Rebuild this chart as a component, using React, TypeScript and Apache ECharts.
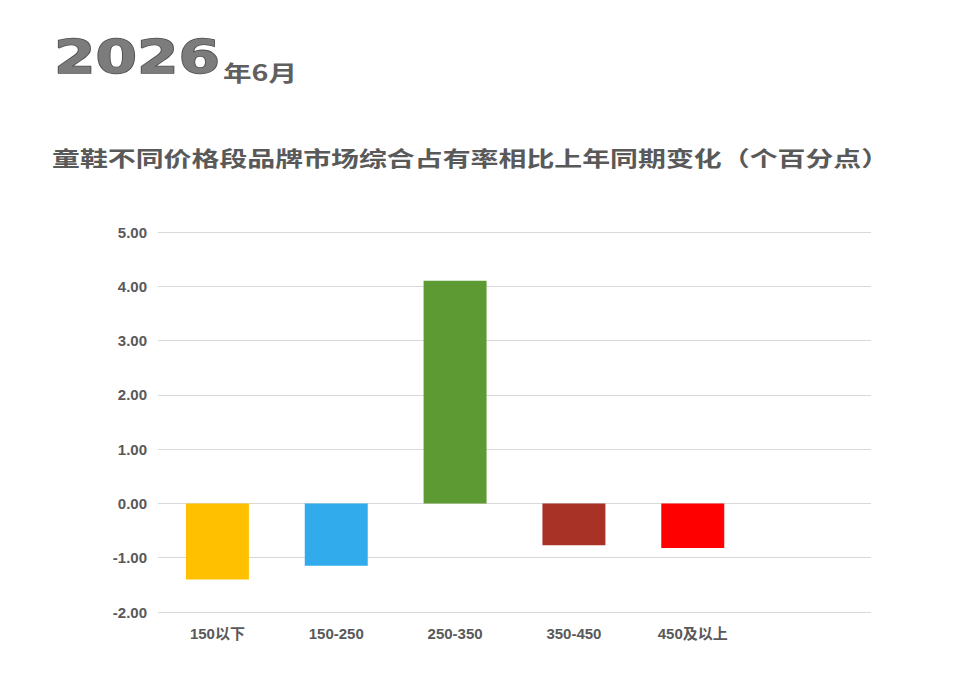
import React, { useEffect, useRef } from "react";
import * as echarts from "echarts";

const categories = ["150以下", "150-250", "250-350", "350-450", "450及以上", ""];
const values = [-1.4, -1.15, 4.1, -0.77, -0.82, null];
const barColors = ["#FFC000", "#31ABEC", "#5E9A33", "#A83226", "#FF0000", "#FFFFFF"];
const yMin = -2;
const yMax = 5;
const yInterval = 1;
const yearText = "2026";
const monthText = "年6月";
const subtitleText = "童鞋不同价格段品牌市场综合占有率相比上年同期变化（个百分点）";

export default function App() {
  const ref = useRef<HTMLDivElement>(null);
  useEffect(() => {
    document.body.style.margin = "0";
    if (!ref.current) return;
    const chart = echarts.init(ref.current, undefined, { renderer: "svg" });
    chart.setOption({
      animation: false,
      backgroundColor: "#ffffff",
      graphic: [
        {
          type: "text",
          x: 54,
          y: 57,
          scaleX: 1.27,
          style: {
            text: yearText,
            fontSize: 47,
            fontWeight: "bold",
            fontFamily: "DejaVu Sans",
            fill: "#7c7c7c",
            stroke: "#505050",
            lineWidth: 1.5,
            textAlign: "left",
            textVerticalAlign: "middle",
          },
        },
        {
          type: "text",
          x: 223,
          y: 71,
          scaleX: 1.3,
          style: {
            text: monthText,
            fontSize: 22,
            fontWeight: "bold",
            fontFamily: "Noto Sans CJK SC",
            fill: "#5f5f5f",
            textAlign: "left",
            textVerticalAlign: "middle",
          },
        },
        {
          type: "text",
          x: 52,
          y: 157,
          scaleX: 1.33,
          style: {
            text: subtitleText,
            fontSize: 21,
            fontWeight: "bold",
            fontFamily: "Noto Sans CJK SC",
            fill: "#595959",
            textAlign: "left",
            textVerticalAlign: "middle",
          },
        },
      ],
      grid: { left: 158, right: 100, top: 232, bottom: 88, containLabel: false },
      xAxis: {
        type: "category",
        data: categories,
        axisLine: { show: false },
        axisTick: { show: false },
        axisLabel: {
          color: "#595959",
          fontSize: 15,
          fontWeight: "bold",
          fontFamily: "'Liberation Sans', 'Noto Sans CJK SC'",
          margin: 14,
        },
        splitLine: { show: false },
      },
      yAxis: {
        type: "value",
        min: yMin,
        max: yMax,
        interval: yInterval,
        axisLine: { show: false },
        axisTick: { show: false },
        axisLabel: {
          color: "#595959",
          fontSize: 15,
          fontWeight: "bold",
          fontFamily: "'Liberation Sans', 'Noto Sans CJK SC'",
          margin: 11,
          formatter: (v: number) => v.toFixed(2),
        },
        splitLine: { lineStyle: { color: "#d9d9d9", width: 1 } },
      },
      series: [
        {
          type: "bar",
          data: values.map((v, i) => ({ value: v, itemStyle: { color: barColors[i] } })),
          barWidth: "53%",
        },
      ],
    });
    return () => chart.dispose();
  }, []);
  return <div ref={ref} style={{ width: 971, height: 700 }} />;
}
